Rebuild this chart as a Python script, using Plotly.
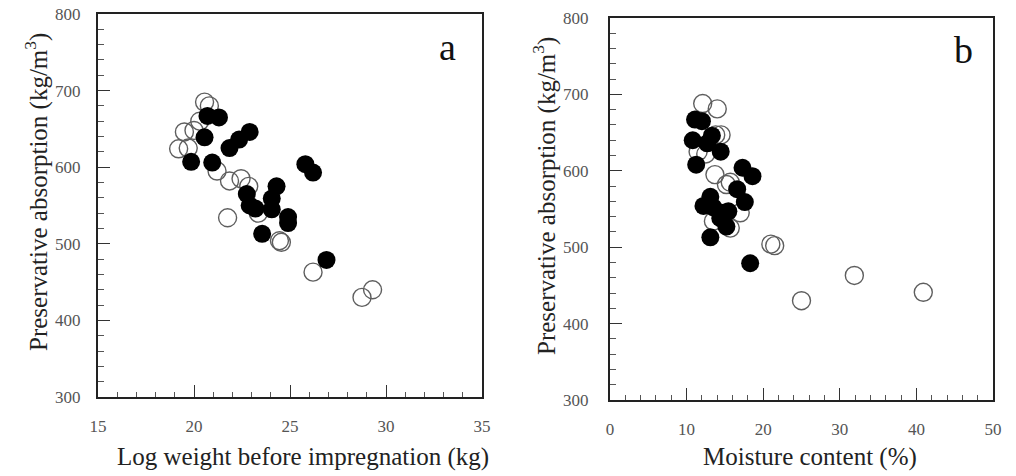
import plotly.graph_objects as go

# ---------------- data ----------------
# Panel a: log weight before impregnation (kg) vs preservative absorption (kg/m3)
a_open_x = [20.55, 20.8, 20.3, 19.5, 20.0, 19.2, 19.7, 21.2, 21.85, 22.45, 22.85, 21.75, 23.35, 24.45, 24.55, 26.2, 28.75, 29.3]
a_open_y = [685, 680, 660, 646, 648, 624, 625, 595, 582, 585, 575, 534, 540, 504, 502, 463, 430, 440]
a_fill_x = [20.7, 21.3, 20.55, 21.85, 22.35, 22.9, 19.85, 20.95, 25.8, 26.2, 22.75, 24.3, 22.9, 23.2, 24.05, 24.05, 24.9, 24.9, 23.55, 26.9]
a_fill_y = [667, 665, 639, 625, 636, 646, 607, 606, 604, 593, 565, 575, 550, 546, 559, 545, 535, 527, 513, 479]

# Panel b: moisture content (%) vs preservative absorption (kg/m3)
b_open_x = [12.1, 14.0, 13.8, 14.5, 11.5, 12.5, 13.7, 15.7, 15.2, 17.0, 13.5, 15.7, 21.0, 21.5, 25.0, 31.9, 40.9]
b_open_y = [688, 681, 647, 647, 625, 622, 595, 585, 582, 545, 534, 525, 504, 502, 430, 463, 441]
b_fill_x = [11.1, 12.0, 10.8, 12.7, 13.3, 14.45, 11.25, 17.3, 18.6, 16.6, 17.6, 13.1, 12.2, 13.5, 15.45, 14.4, 15.2, 13.1, 18.3, 14.8]
b_fill_y = [667, 665, 640, 636, 646, 625, 608, 604, 593, 576, 559, 566, 554, 552, 547, 538, 527, 513, 479, 545]

x_title_a = "Log weight before impregnation (kg)"
x_title_b = "Moisture content (%)"
y_title = "Preservative absorption (kg/m<sup>3</sup>)"

# ---------------- layout ----------------
W, H = 1016, 476
FONT = "Liberation Serif"

def px_x(p):
    return p / W

def px_y(p):
    return 1 - p / H

fig = go.Figure()

open_marker = dict(symbol="circle-open", size=18, color="#5e5e5e", line=dict(width=1.4, color="#5e5e5e"))
fill_marker = dict(symbol="circle", size=18, color="#000000", line=dict(width=0))

fig.add_trace(go.Scatter(x=a_open_x, y=a_open_y, mode="markers", marker=open_marker, xaxis="x", yaxis="y", showlegend=False))
fig.add_trace(go.Scatter(x=a_fill_x, y=a_fill_y, mode="markers", marker=fill_marker, xaxis="x", yaxis="y", showlegend=False))
fig.add_trace(go.Scatter(x=b_open_x, y=b_open_y, mode="markers", marker=open_marker, xaxis="x2", yaxis="y2", showlegend=False))
fig.add_trace(go.Scatter(x=b_fill_x, y=b_fill_y, mode="markers", marker=fill_marker, xaxis="x2", yaxis="y2", showlegend=False))

tickfont = dict(family=FONT, size=17, color="#555555")

def xaxis(domain, rng, dtick, minor_dtick, anchor):
    return dict(domain=domain, range=rng, anchor=anchor, dtick=dtick, tick0=rng[0],
                ticks="inside", ticklen=12, tickwidth=1, tickcolor="#333",
                minor=dict(ticks="inside", ticklen=5, dtick=minor_dtick, tickcolor="#555", tickwidth=1),
                showline=True, linecolor="#222", linewidth=2, mirror=True, automargin=False,
                showgrid=False, zeroline=False, tickfont=tickfont, ticklabelstandoff=13)

def yaxis(domain, anchor, standoff):
    return dict(domain=domain, range=[300, 800], anchor=anchor, dtick=100, tick0=300,
                ticks="inside", ticklen=12, tickwidth=1, tickcolor="#333",
                minor=dict(ticks="inside", ticklen=6, dtick=20, tickcolor="#555", tickwidth=1),
                showline=True, linecolor="#222", linewidth=2, mirror=True, automargin=False,
                showgrid=False, zeroline=False, tickfont=tickfont, ticklabelstandoff=standoff)

fig.update_layout(
    width=W, height=H,
    margin=dict(l=0, r=0, t=0, b=0, pad=0, autoexpand=False),
    paper_bgcolor="white", plot_bgcolor="white",
    xaxis=xaxis([px_x(98), px_x(482)], [15, 35], 5, 1, "y"),
    yaxis=yaxis([px_y(397), px_y(14)], "x", 12),
    xaxis2=xaxis([px_x(610), px_x(993)], [0, 50], 10, 2, "y2"),
    yaxis2=yaxis([px_y(400), px_y(18)], "x2", 16),
    font=dict(family=FONT, color="#222"),
)

title_font = dict(family=FONT, size=25, color="#222")
annotations = [
    dict(text=x_title_a, x=px_x(303), y=px_y(457), xref="paper", yref="paper",
         xanchor="center", yanchor="middle", showarrow=False, font=title_font),
    dict(text=x_title_b, x=px_x(810), y=px_y(457), xref="paper", yref="paper",
         xanchor="center", yanchor="middle", showarrow=False, font=title_font),
    dict(text=y_title, x=px_x(36), y=px_y(192), xref="paper", yref="paper", textangle=-90,
         xanchor="center", yanchor="middle", showarrow=False, font=title_font),
    dict(text=y_title, x=px_x(544), y=px_y(196), xref="paper", yref="paper", textangle=-90,
         xanchor="center", yanchor="middle", showarrow=False, font=title_font),
    dict(text="a", x=px_x(447), y=px_y(47), xref="paper", yref="paper",
         xanchor="center", yanchor="middle", showarrow=False, font=dict(family=FONT, size=38, color="#111")),
    dict(text="b", x=px_x(963), y=px_y(50), xref="paper", yref="paper",
         xanchor="center", yanchor="middle", showarrow=False, font=dict(family=FONT, size=38, color="#111")),
]
fig.update_layout(annotations=annotations)

fig.write_html(
    "out.html",
    config={"displayModeBar": False},
    post_script="document.body.style.margin='0';document.body.style.overflow='hidden';",
)
